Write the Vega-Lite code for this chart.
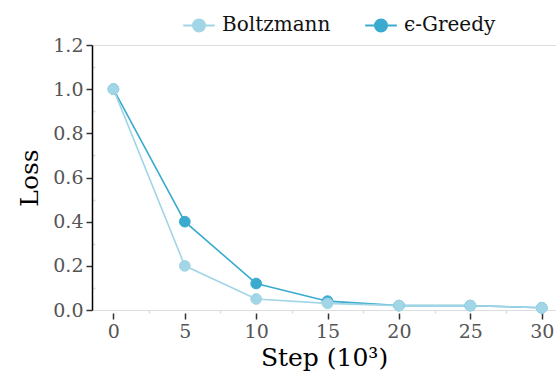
{
  "$schema": "https://vega.github.io/schema/vega-lite/v6.json",
  "width": 464,
  "height": 265,
  "autosize": "none",
  "padding": {"left": 92, "top": 45, "right": 0, "bottom": 68},
  "background": "white",
  "config": {
    "view": {"stroke": null},
    "font": "DejaVu Serif",
    "style": {"guide-label": {"font": "DejaVu Serif"}, "guide-title": {"font": "DejaVu Serif"}},
    "legend": {"labelFont": "DejaVu Serif"},
    "axis": {"labelFont": "DejaVu Serif", "titleFont": "DejaVu Serif"}
  },
  "data": {
    "values": [
      {"step": 0, "loss": 1.0, "method": "ϵ-Greedy"},
      {"step": 5, "loss": 0.4, "method": "ϵ-Greedy"},
      {"step": 10, "loss": 0.12, "method": "ϵ-Greedy"},
      {"step": 15, "loss": 0.04, "method": "ϵ-Greedy"},
      {"step": 20, "loss": 0.02, "method": "ϵ-Greedy"},
      {"step": 25, "loss": 0.02, "method": "ϵ-Greedy"},
      {"step": 30, "loss": 0.01, "method": "ϵ-Greedy"},
      {"step": 0, "loss": 1.0, "method": "Boltzmann"},
      {"step": 5, "loss": 0.2, "method": "Boltzmann"},
      {"step": 10, "loss": 0.05, "method": "Boltzmann"},
      {"step": 15, "loss": 0.03, "method": "Boltzmann"},
      {"step": 20, "loss": 0.02, "method": "Boltzmann"},
      {"step": 25, "loss": 0.02, "method": "Boltzmann"},
      {"step": 30, "loss": 0.01, "method": "Boltzmann"}
    ]
  },
  "encoding": {
    "x": {
      "field": "step", "type": "quantitative",
      "scale": {"domain": [-1.5, 31], "nice": false, "zero": false},
      "axis": {
        "title": "Step (10³)",
        "titleFontSize": 25, "titleFontWeight": "normal", "titleColor": "#000", "titlePadding": 4,
        "values": [0, 2.5, 5, 7.5, 10, 12.5, 15, 17.5, 20, 22.5, 25, 27.5, 30],
        "labelExpr": "datum.value % 5 == 0 ? datum.label : ''",
        "labelFontSize": 19, "labelColor": "#555", "labelPadding": 3,
        "domain": false, "grid": false, "offset": 3,
        "tickSize": {"condition": {"test": "datum.value % 5 != 0", "value": -3}, "value": 6},
        "tickColor": {"condition": {"test": "datum.value % 5 != 0", "value": "#dddddd"}, "value": "#333333"},
        "tickWidth": 1.5
      }
    },
    "y": {
      "field": "loss", "type": "quantitative",
      "scale": {"domain": [0, 1.2], "nice": false},
      "axis": {
        "title": "Loss",
        "titleFontSize": 25, "titleFontWeight": "normal", "titleColor": "#000", "titlePadding": 10,
        "values": [0, 0.1, 0.2, 0.3, 0.4, 0.5, 0.6, 0.7, 0.8, 0.9, 1.0, 1.1, 1.2],
        "labelExpr": "round(datum.value*10) % 2 == 0 ? format(datum.value, '.1f') : ''",
        "labelFontSize": 19, "labelColor": "#555", "labelPadding": 3,
        "domain": true, "domainColor": "#000", "domainWidth": 1.5,
        "tickSize": {"condition": {"test": "round(datum.value*10) % 2 == 1", "value": -3}, "value": 6},
        "tickColor": {"condition": {"test": "round(datum.value*10) % 2 == 1", "value": "#dddddd"}, "value": "#333333"},
        "tickWidth": 1.5,
        "grid": true, "gridColor": "#dddddd", "gridWidth": 1,
        "gridOpacity": {"condition": {"test": "datum.value == 0 || datum.value == 1.2", "value": 1}, "value": 0}
      }
    }
  },
  "layer": [
    {
      "mark": {"type": "line", "strokeWidth": 1.6},
      "encoding": {
        "color": {
          "field": "method", "type": "nominal",
          "scale": {"domain": ["Boltzmann", "ϵ-Greedy"], "range": ["#a2d6e6", "#3aabcf"]}
        },
        "order": {"field": "step"}
      }
    },
    {
      "mark": {"type": "point", "filled": true, "opacity": 1, "size": 115, "strokeWidth": 1},
      "encoding": {
        "color": {
          "field": "method", "type": "nominal",
          "scale": {"domain": ["Boltzmann", "ϵ-Greedy"], "range": ["#a2d6e6", "#3aabcf"]},
          "legend": {
            "title": null, "orient": "none", "direction": "horizontal",
            "legendX": 90, "legendY": -37,
            "symbolType": "M-1,0H1M0.38,0A0.38,0.38,0,1,1,-0.38,0A0.38,0.38,0,1,1,0.38,0Z",
            "symbolSize": 1000, "symbolStrokeWidth": 2,
            "labelFont": "DejaVu Serif",
            "labelFontSize": 20, "labelColor": "#111", "labelOffset": 6,
            "columnPadding": 30
          }
        },
        "stroke": {
          "field": "method", "type": "nominal",
          "scale": {"domain": ["Boltzmann", "ϵ-Greedy"], "range": ["#a2d6e6", "#3aabcf"]}
        }
      }
    }
  ]
}
